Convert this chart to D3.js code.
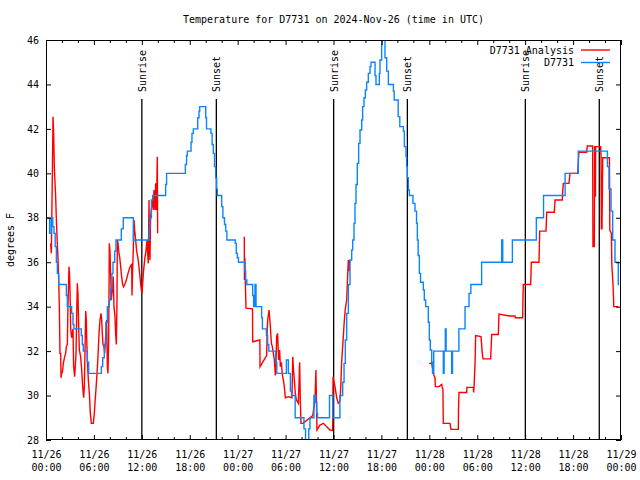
<!DOCTYPE html>
<html><head><meta charset="utf-8">
<script src="https://cdn.jsdelivr.net/npm/d3@7"></script>
<style>
body{margin:0;background:#fff}
svg{display:block}
text{font-family:"DejaVu Sans Mono",monospace;font-size:10px;fill:#000}
</style>
</head><body><svg id="c" width="640" height="480"></svg>
<script>
// ---- data (hours since 2024-11-26 00:00 UTC, temperature in °F) ----
const titleText = "Temperature for D7731 on 2024-Nov-26 (time in UTC)";
const yLabel = "degrees F";
const seriesNames = ["D7731 Analysis", "D7731"];
const seriesColors = ["#ff0000", "#0a84ff"];
const yTicks = [28, 30, 32, 34, 36, 38, 40, 42, 44, 46];
const xTickHours = [0, 6, 12, 18, 24, 30, 36, 42, 48, 54, 60, 66, 72];
const xTickLabels = [["11/26","00:00"],["11/26","06:00"],["11/26","12:00"],["11/26","18:00"],
  ["11/27","00:00"],["11/27","06:00"],["11/27","12:00"],["11/27","18:00"],
  ["11/28","00:00"],["11/28","06:00"],["11/28","12:00"],["11/28","18:00"],["11/29","00:00"]];
const sunriseHours = [12.0, 36.02, 60.02];
const sunsetHours = [21.33, 45.25, 69.28];

// station observations (stepped)
const bluePoints = [
 [0.0,38],[0.45,37.3],[0.65,38],[0.85,37.6],[1.0,37.3],[1.15,36.7],[1.3,36.0],[1.42,35.5],[1.59,35],
 [2.55,34.5],[2.67,34],[3.21,33.7],[3.38,33.2],[3.5,33],[4.42,32.7],[4.55,32.3],[4.67,32],[5.18,31.5],
 [5.34,31],[6.93,31.3],[7.1,31.7],[7.3,32.3],[7.5,33.3],[7.68,34],[7.93,34.3],[8.1,34.8],[8.26,35.5],
 [8.39,36],[8.6,36.5],[8.76,37],[9.43,37.5],[9.68,38],[10.93,37],[12.94,37.5],[13.02,38],[13.2,38.8],
 [13.36,39],[14.98,39.5],[15.1,40],[17.45,40.4],[17.6,40.8],[17.7,41],[18.16,41.4],[18.28,41.8],
 [18.45,42],[19.0,42.5],[19.16,42.8],[19.25,43],[20.0,42.5],[20.1,42],[20.65,41.8],[20.8,41.3],
 [20.95,40.9],[21.1,40.3],[21.25,39.8],[21.37,39.3],[21.45,39],[22.0,38.5],[22.15,38],[22.35,37.7],
 [22.5,37.4],[22.65,37],[23.7,36.85],[23.83,36.4],[23.96,36.2],[24.1,36],[24.9,35.6],[25.0,35.2],
 [25.15,35],[25.88,34.5],[26.0,34],[26.17,35],[26.3,34],[27.0,33.5],[27.1,33],[27.6,32.7],[27.75,32.3],
 [27.9,32],[28.75,31.5],[28.9,31],[30.1,31.6],[30.35,31],[30.6,30.2],[30.75,30],[31.2,29],[32.3,28.5],
 [32.5,27.6],[32.9,28.5],[33.05,29],[33.55,30],[33.75,29.7],[33.9,29.2],[34.0,29],[35.5,30],[35.9,29],
 [36.8,30],[37.15,30.6],[37.32,31.45],[37.48,32.5],[37.65,33.7],[37.86,35],[38.07,36.1],[38.28,36.55],
 [38.4,37],[38.57,37.75],[38.69,38.65],[38.82,39.5],[38.98,40.45],[39.15,41.35],[39.32,41.95],
 [39.53,42.4],[39.65,43],[39.82,43.4],[39.99,43.75],[40.15,44.1],[40.36,44.5],[40.57,44.8],[40.7,45],
 [41.2,44.4],[41.32,44],[41.74,44.5],[41.82,45.1],[42.03,45.8],[42.1,46.5],[42.45,45.2],[42.66,44.6],
 [42.87,44],[43.5,43.7],[43.6,43.3],[44.1,42.55],[44.3,42.1],[44.75,41.9],[44.87,41.2],[45.08,40.75],
 [45.16,40.3],[45.24,39.8],[45.37,39.25],[45.5,39],[45.95,38.65],[46.2,38.3],[46.4,37.75],[46.5,37],
 [46.6,36.3],[46.75,35.5],[46.9,35.1],[47.25,34.75],[47.37,34.3],[47.54,34],[47.87,33.3],[48.0,32.5],
 [48.12,32.05],[48.3,31.5],[48.4,31],[48.55,32],[49.75,31],[49.85,32],[50.0,33],[50.1,32],[50.8,31],
 [50.9,32],[51.7,33],[52.47,34],[52.97,34.6],[53.2,35],[54.55,36],[57.06,37],[57.19,36],[58.4,37],
 [61.4,38],[62.3,39],[65.0,40],[66.65,41],[70.3,40.3],[70.5,39.3],[70.75,38.3],[70.96,37],[71.25,36],
 [71.66,35],[71.75,35]
];

// analysis series (null = gap)
const redPoints = [
 [0.58,36.85],[0.67,36.4],[0.79,39.8],[0.88,42.55],[0.96,41.8],[1.04,40.3],[1.21,38.95],[1.29,38],
 [1.42,36.8],[1.5,36.2],[1.59,35.2],[1.67,34],[1.75,31.9],[1.84,31.9],[1.88,30.8],[1.96,31],[2.05,31.05],
 [2.17,31.45],[2.34,31.75],[2.46,31.9],[2.55,32.2],[2.67,32.3],[2.75,34],[2.88,35.8],[2.96,35.35],
 [3.05,34],[3.09,33],[3.21,32.6],[3.38,33],[3.46,31.3],[3.59,30.85],[3.76,31.9],[3.84,33.55],[3.92,35.05],
 [4.0,34.6],[4.09,33.1],[4.17,32.05],[4.34,31.75],[4.47,31.15],[4.59,30.4],[4.72,29.9],[4.8,30.4],
 [4.88,31.9],[4.97,33.8],[5.05,33.4],[5.09,32.65],[5.18,31.6],[5.3,30.7],[5.43,30.1],[5.55,29.2],
 [5.68,28.75],[5.93,28.75],[6.05,29.2],[6.14,29.7],[6.26,30.3],[6.39,31],[6.51,31.75],[6.64,32.8],
 [6.76,33.4],[6.89,33.7],[6.97,33.4],[7.05,32.8],[7.14,32.3],[7.26,32.2],[7.35,31.9],[7.47,32.65],
 [7.6,33.4],[7.68,31.3],[7.76,31],[7.85,32.5],[7.93,36.85],[8.01,36.5],[8.1,35.35],[8.18,34.3],
 [8.31,34.75],[8.43,35.35],[8.51,34],[8.64,33.55],[8.72,32.8],[8.81,32.3],[8.89,34.3],[8.93,37],
 [9.02,36.85],[9.1,36.5],[9.22,36.25],[9.35,35.8],[9.47,35.35],[9.6,35],[9.72,34.9],[9.85,35],
 [9.97,35.1],[10.1,35.25],[10.27,35.5],[10.43,35.7],[10.6,35.85],[10.73,35.9],[10.77,34.5],[10.85,35.65],
 [10.94,36.7],[11.02,37.9],[11.1,37.45],[11.23,37],[11.35,36.5],[11.48,36.25],[11.6,35.95],[11.73,35.5],
 [11.85,35],[11.94,34.75],[12.02,34.6],[12.1,35],[12.19,35.5],[12.27,35.8],[12.4,36.25],[12.52,36.5],
 [12.65,37],[12.73,36.4],[12.81,35.95],[12.9,38.8],[12.94,36.7],[13.02,36.1],[13.1,38.05],[13.23,38.5],
 [13.36,38.8],[13.44,38.35],[13.52,39.25],[13.65,38.35],[13.73,39.55],[13.82,38.35],[13.86,39.1],
 [13.94,40.75],[13.98,37.3],
 null,
 [24.83,37.15],[24.85,35.2],[24.9,36.2],[24.95,35.3],[25.04,33.93],[25.86,33.9],[25.88,32.42],
 [26.78,32.5],[26.8,31.3],[27.63,31.8],[27.7,33.0],[27.76,33.4],[27.92,33.85],[28.0,33.55],[28.09,33.1],
 [28.22,32.35],[28.34,32.2],[28.47,31.9],[28.59,31.6],[28.72,30.9],[28.8,31.3],[28.88,32.65],[29.0,32.8],
 [29.13,31.6],[29.26,32.05],[29.34,31.3],[29.47,31.5],[29.59,30.95],[29.72,30.7],[29.84,30.4],
 [29.97,29.9],[30.35,29.95],[30.8,29.9],[30.9,31.75],[30.97,31.3],[31.1,30.7],[31.22,30.1],[31.35,29.8],
 [31.6,29.65],[31.76,31.5],[31.85,29.65],[31.93,28.75],[32.18,28.75],[33.4,29.1],[33.68,29.8],
 [33.8,31.15],[33.93,28.45],[34.3,28.67],[34.73,28.75],[35.15,28.6],[35.56,28.45],[35.9,28.43],
 [35.94,30.85],[36.19,30.4],[36.4,29.9],[36.6,29.65],[36.81,29.75],[36.9,30.3],[37.02,31.5],
 [37.15,32.2],[37.36,33.4],[37.48,33.9],[37.65,34.3],[37.73,35.05],[37.86,36.1],[37.94,35.6],[38.0,36.1],
 null,
 [47.96,31.45],[48.3,31.45],[48.37,31.3],[48.58,30.9],[48.71,30.8],[48.75,30.4],[49.25,30.4],
 [49.42,30.47],[49.55,30.5],[49.63,30.35],[49.7,30.3],[49.75,28.75],[50.59,28.75],[50.71,28.48],
 [51.63,28.48],[51.65,29.32],[51.71,30.14],[52.68,30.14],[52.7,30.37],[53.51,30.37],[53.55,30.14],
 [53.6,30.37],[53.72,31.42],[53.8,32.7],[54.47,32.65],[54.63,31.9],[54.72,31.65],[55.68,31.65],
 [55.81,32.75],[56.64,32.75],[56.72,33.67],[57.69,33.6],[58.1,33.58],[58.73,33.58],[58.75,33.5],
 [59.69,33.5],[59.72,34.3],[59.77,35.0],[60.69,35.0],[60.77,36.0],[61.73,36.0],[61.82,37.4],
 [62.61,37.4],[62.65,37.8],[62.7,38.25],[63.65,38.25],[63.74,38.8],[64.65,38.8],[64.7,39.2],
 [64.78,39.55],[65.49,39.55],[65.61,40.0],[66.58,40.0],[66.65,40.5],[66.74,40.95],[67.7,40.95],
 [67.78,41.23],[68.45,41.23],[68.49,36.7],[68.66,36.7],[68.7,41.2],[68.78,41.2],[68.8,38.95],
 [68.82,41.2],[69.45,41.2],[69.5,40.8],[69.54,37.5],[69.62,37.5],[69.71,40.7],[70.55,40.7],
 [70.6,37.45],[70.8,37.3],[70.85,35.9],[71.0,35.0],[71.1,34.0],[71.66,34.0]
];

// ---- drawing ----
const W = 640, H = 480;
const M = {left: 46, right: 621, top: 40, bottom: 440};
const t0 = Date.UTC(2024, 10, 26);
const toDate = h => new Date(t0 + h * 3600e3);

const svg = d3.select("#c");
const x = d3.scaleUtc().domain([toDate(0), toDate(72)]).range([M.left, M.right]);
const y = d3.scaleLinear().domain([28, 46]).range([M.bottom, M.top]);

svg.append("rect").attr("width", W).attr("height", H).attr("fill", "#fff");

// title
svg.append("text").attr("x", (M.left + M.right) / 2).attr("y", 23)
  .attr("text-anchor", "middle").text(titleText);

// y label
svg.append("text").attr("transform", "translate(14,240) rotate(-90)")
  .attr("text-anchor", "middle").text(yLabel);

// clip
svg.append("clipPath").attr("id", "clip").append("rect")
  .attr("x", M.left).attr("y", M.top).attr("width", M.right - M.left).attr("height", M.bottom - M.top);

// sunrise / sunset lines
const sunEvents = sunriseHours.map(h => ({h, label: "Sunrise"}))
  .concat(sunsetHours.map(h => ({h, label: "Sunset"})));
const sg = svg.append("g");
sunEvents.forEach(e => {
  const px = x(toDate(e.h));
  sg.append("line").attr("x1", px).attr("x2", px).attr("y1", 99).attr("y2", M.bottom)
    .attr("stroke", "#000").attr("stroke-width", 1.3);
  sg.append("text").attr("transform", `translate(${px + 4},92) rotate(-90)`)
    .attr("text-anchor", "start").text(e.label);
});

// series
const lineRed = d3.line().defined(d => d !== null)
  .x(d => x(toDate(d[0]))).y(d => y(d[1]));
const lineBlue = d3.line().curve(d3.curveStepAfter)
  .x(d => x(toDate(d[0]))).y(d => y(d[1]));

const plot = svg.append("g").attr("clip-path", "url(#clip)");
plot.append("path").datum(redPoints).attr("d", lineRed)
  .attr("fill", "none").attr("stroke", seriesColors[0]).attr("stroke-width", 1.4);
plot.append("path").datum(bluePoints).attr("d", lineBlue)
  .attr("fill", "none").attr("stroke", seriesColors[1]).attr("stroke-width", 1.4);

// axes
const majorTicks = xTickHours.map(toDate);
const minorTicks = d3.range(0, 73, 2).filter(h => h % 6 !== 0).map(toDate);
const labelMap = new Map(xTickHours.map((h, i) => [+toDate(h), xTickLabels[i]]));

const gx = svg.append("g").attr("transform", `translate(0,${M.bottom})`)
  .call(d3.axisBottom(x).tickValues(majorTicks).tickSize(-5).tickPadding(0).tickFormat(() => ""));
gx.selectAll(".tick text").attr("y", 0).attr("dy", null).each(function(d) {
  const lab = labelMap.get(+d);
  const t = d3.select(this);
  t.append("tspan").attr("x", 0).attr("y", 18).text(lab[0]);
  t.append("tspan").attr("x", 0).attr("y", 31).text(lab[1]);
});
svg.append("g").attr("transform", `translate(0,${M.bottom})`)
  .call(d3.axisBottom(x).tickValues(minorTicks).tickSize(-3).tickFormat(() => ""));
svg.append("g").attr("transform", `translate(0,${M.top})`)
  .call(d3.axisTop(x).tickValues(majorTicks).tickSize(-5).tickFormat(() => ""));
svg.append("g").attr("transform", `translate(0,${M.top})`)
  .call(d3.axisTop(x).tickValues(minorTicks).tickSize(-3).tickFormat(() => ""));
svg.append("g").attr("transform", `translate(${M.left},0)`)
  .call(d3.axisLeft(y).tickValues(yTicks).tickSize(-5).tickPadding(7).tickFormat(d3.format("d")));
svg.append("g").attr("transform", `translate(${M.right},0)`)
  .call(d3.axisRight(y).tickValues(yTicks).tickSize(-5).tickFormat(() => ""));

svg.selectAll(".domain").remove();
svg.selectAll(".tick line").attr("stroke", "#000");
svg.selectAll(".tick text").attr("font-family", null).attr("font-size", null).attr("fill", "#000");

// border
svg.append("rect").attr("x", M.left + 0.5).attr("y", M.top + 0.5)
  .attr("width", M.right - M.left - 1).attr("height", M.bottom - M.top - 1)
  .attr("fill", "none").attr("stroke", "#000").attr("stroke-width", 1);

// legend
const lg = svg.append("g");
seriesNames.forEach((name, i) => {
  const ly = 50 + i * 12.5;
  lg.append("text").attr("x", 574).attr("y", ly + 3.8).attr("text-anchor", "end").text(name);
  lg.append("line").attr("x1", 581).attr("x2", 610).attr("y1", ly).attr("y2", ly)
    .attr("stroke", seriesColors[i]).attr("stroke-width", 1.4);
});
</script>
</body></html>
